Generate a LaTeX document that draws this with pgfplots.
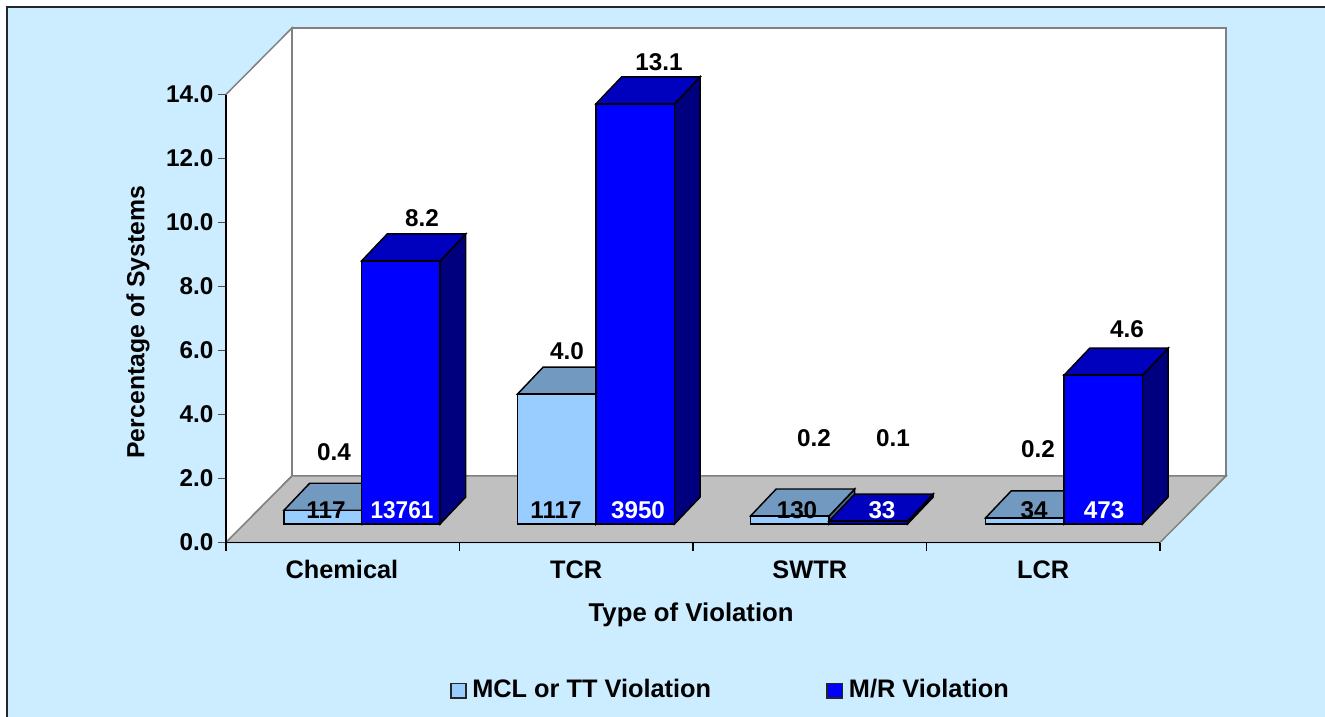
\documentclass[border=0pt]{standalone}
\usepackage{fontspec}
\setmainfont{Liberation Sans}
\usepackage{pgfplots}
\pgfplotsset{compat=1.18}
\definecolor{bgblue}{HTML}{CCECFF}
\definecolor{lightf}{HTML}{99CCFF}
\definecolor{lightt}{HTML}{7299BF}
\definecolor{lights}{HTML}{4C6680}
\definecolor{darkf}{HTML}{0000FF}
\definecolor{darkt}{HTML}{0000BF}
\definecolor{darks}{HTML}{00007F}
\definecolor{floorc}{HTML}{C0C0C0}
\definecolor{wallc}{HTML}{808080}
\newcommand\chartfont{\fontsize{18.2}{20}\selectfont\bfseries}
\newcommand\catfont{\fontsize{19}{21}\selectfont\bfseries}
\newcommand\ylabfont{\fontsize{18.6}{21}\selectfont\bfseries}
\newcommand\xlabfont{\fontsize{19.3}{21}\selectfont\bfseries}
% one 3-D column: left edge (category units), value, front, top and side colours
\newcommand\threedbar[5]{%
  \pgfmathsetmacro\xa{#1}%
  \pgfmathsetmacro\xb{#1+0.3362}%
  \pgfmathsetmacro\xc{#1+0.110}%
  \pgfmathsetmacro\xd{#1+0.3362+0.110}%
  \pgfmathsetmacro\ya{0.578}%
  \pgfmathsetmacro\yb{0.578+#2}%
  \pgfmathsetmacro\yc{0.578+#2+0.844}%
  \pgfmathsetmacro\yd{0.578+0.844}%
  \addplot[fill=#5,draw=black,line width=1.1pt,line join=miter] coordinates {(\xb,\ya)(\xd,\yd)(\xd,\yc)(\xb,\yb)} --cycle;
  \addplot[fill=#4,draw=black,line width=1.1pt,line join=miter] coordinates {(\xa,\yb)(\xb,\yb)(\xd,\yc)(\xc,\yc)} --cycle;
  \addplot[fill=#3,draw=black,line width=1.1pt,line join=miter] coordinates {(\xa,\ya)(\xb,\ya)(\xb,\yb)(\xa,\yb)} --cycle;
}
\newcommand\lighthbar[2]{\threedbar{#1}{#2}{lightf}{lightt}{lights}}
\newcommand\darkhbar[2]{\threedbar{#1}{#2}{darkf}{darkt}{darks}}
\begin{document}
\begin{tikzpicture}
\path[use as bounding box] (0pt,0pt) rectangle (993.75pt,-537.75pt);
\fill[white] (0pt,0pt) rectangle (993.75pt,-537.75pt);
\fill[bgblue] (5.25pt,-5.25pt) rectangle (993.75pt,-537.75pt);
\draw[black!85,line width=1.1pt] (5.25pt,-537.75pt) -- (5.25pt,-5.25pt) -- (993.75pt,-5.25pt);
\begin{axis}[
  at={(169.5pt,-406.875pt)}, anchor=south west,
  scale only axis, width=700.5pt, height=336pt,
  xmin=0, xmax=4, ymin=0, ymax=14,
  clip=false, axis on top,
  axis x line=bottom, axis y line=left,
  axis line style={-, black, line width=0.9pt},
  xtick={0,1,2,3,4},
  xticklabels={,,,,},
  extra x ticks={0.4965,1.5,2.5,3.5},
  extra x tick labels={Chemical,TCR,SWTR,LCR},
  extra x tick style={major tick length=0pt, tick style={draw=none}},
  xtick pos=bottom,
  x tick style={draw=black,line width=0.8pt},
  x tick label style={font=\catfont, yshift=-10pt},
  ytick={0,2,4,6,8,10,12,14},
  ytick pos=left,
  y tick style={draw=black!70,line width=0.8pt},
  major tick length=6pt,
  tick align=outside,
  y tick label style={font=\chartfont, /pgf/number format/.cd, fixed, fixed zerofill, precision=1, assume math mode=true},
  xlabel={Type of Violation},
  ylabel={Percentage of Systems},
  xlabel style={font=\xlabfont, at={(rel axis cs:0.498,-0.1615)}, anchor=center},
  ylabel style={font=\ylabfont, at={(rel axis cs:-0.0943,0.492)}, anchor=center},
]
% walls and floor
\addplot[fill=white,draw=wallc,line width=1.1pt] coordinates {(0,0)(0,14)(0.2827,16.08)(0.2827,2.08)} --cycle;
\addplot[fill=white,draw=wallc,line width=1.1pt] coordinates {(0.2827,2.08)(0.2827,16.08)(4.2827,16.08)(4.2827,2.08)} --cycle;
\addplot[fill=floorc,draw=wallc,line width=1.1pt] coordinates {(0,0)(0.2827,2.08)(4.2827,2.08)(4,0)} --cycle;
% columns: MCL or TT Violation, then M/R Violation
\lighthbar{0.2484}{0.43}
\darkhbar{0.5805}{8.22}
\lighthbar{1.2483}{4.06}
\darkhbar{1.5845}{13.13}
\lighthbar{2.2463}{0.25}
\darkhbar{2.5825}{0.09}
\lighthbar{3.2527}{0.19}
\darkhbar{3.5889}{4.65}
% percentage labels
\node[font=\chartfont] at (axis cs:0.4625,2.83) {0.4};
\node[font=\chartfont] at (axis cs:0.8394,10.14) {8.2};
\node[font=\chartfont] at (axis cs:1.4604,5.98) {4.0};
\node[font=\chartfont] at (axis cs:1.8544,15.02) {13.1};
\node[font=\chartfont] at (axis cs:2.5182,3.27) {0.2};
\node[font=\chartfont] at (axis cs:2.8565,3.27) {0.1};
\node[font=\chartfont] at (axis cs:3.4775,2.92) {0.2};
\node[font=\chartfont] at (axis cs:3.8583,6.67) {4.6};
% counts inside the columns
\node[font=\chartfont] at (axis cs:0.4282,1.02) {117};
\node[font=\chartfont,text=white,xscale=0.93] at (axis cs:0.7537,1.02) {13761};
\node[font=\chartfont] at (axis cs:1.4133,1.02) {1117};
\node[font=\chartfont,text=white] at (axis cs:1.7645,1.02) {3950};
\node[font=\chartfont] at (axis cs:2.4454,1.02) {130};
\node[font=\chartfont,text=white] at (axis cs:2.8094,1.02) {33};
\node[font=\chartfont] at (axis cs:3.4604,1.02) {34};
\node[font=\chartfont,text=white] at (axis cs:3.7602,1.02) {473};
\end{axis}
% legend
\filldraw[fill=lightf,draw=black!85,line width=1pt] (338.2pt,-512.5pt) rectangle (349.5pt,-523.5pt);
\node[font=\catfont,anchor=west,inner sep=0pt] at (354pt,-516.5pt) {MCL or TT Violation};
\filldraw[fill=darkf,draw=black!85,line width=1pt] (620.2pt,-512.5pt) rectangle (632pt,-523.5pt);
\node[font=\catfont,anchor=west,inner sep=0pt] at (636.5pt,-516.5pt) {M/R Violation};
\end{tikzpicture}
\end{document}
